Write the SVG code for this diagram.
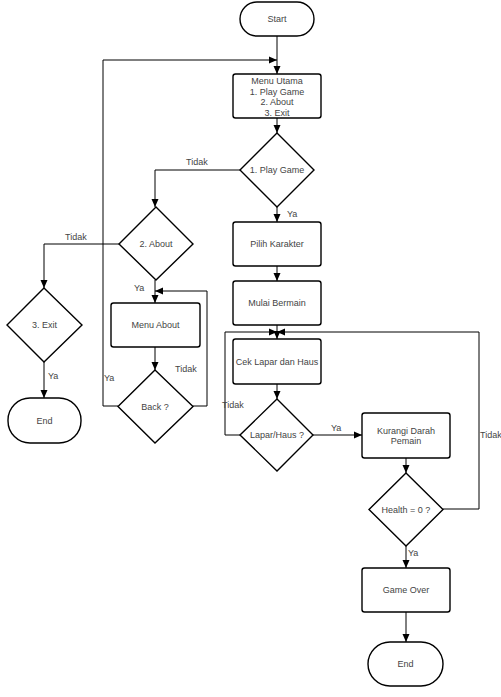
<svg xmlns="http://www.w3.org/2000/svg" width="501" height="697" viewBox="0 0 501 697">
<style>
.s{fill:#fff;stroke:#000;stroke-width:1.4}
.t{font-family:"Liberation Sans",Arial,sans-serif;font-size:9px;fill:#444;text-anchor:middle;dominant-baseline:central}
.l{font-family:"Liberation Sans",Arial,sans-serif;font-size:9px;fill:#444}
.c{fill:none;stroke:#000;stroke-width:1;marker-end:url(#a)}
</style>
<defs>
<marker id="a" viewBox="0 0 8 8" refX="8" refY="4" markerWidth="8" markerHeight="8" markerUnits="userSpaceOnUse" orient="auto">
<path d="M0,0.5 L8,4 L0,7.5 Z" fill="#000"/>
</marker>
</defs>
<rect width="501" height="697" fill="#fff"/>
<g id="connectors">
<path class="c" d="M277,36 V74"/>
<path class="c" d="M118,406 H103 V60 H277"/>
<path class="c" d="M277,118 V133"/>
<path class="c" d="M277,207 V222"/>
<path class="c" d="M277,266 V281"/>
<path class="c" d="M277,325 V339"/>
<path class="c" d="M240,435 H225 V332 H277"/>
<path class="c" d="M443,509 H479 V332 H277"/>
<path class="c" d="M277,384 V399"/>
<path class="c" d="M313,435 H362"/>
<path class="c" d="M406,458 V473"/>
<path class="c" d="M406,546 V568"/>
<path class="c" d="M406,612 V642"/>
<path class="c" d="M240,170 H155 V207"/>
<path class="c" d="M119,244 H44 V288"/>
<path class="c" d="M44,362 V398"/>
<path class="c" d="M155,280 V303"/>
<path class="c" d="M155,347 V370"/>
<path class="c" d="M193,406 H207 V291 H155"/>
<text class="l" x="287" y="217">Ya</text>
<text class="l" x="186" y="165">Tidak</text>
<text class="l" x="65" y="240">Tidak</text>
<text class="l" x="48" y="379">Ya</text>
<text class="l" x="134" y="291">Ya</text>
<text class="l" x="175" y="372">Tidak</text>
<text class="l" x="104" y="381">Ya</text>
<text class="l" x="222" y="408">Tidak</text>
<text class="l" x="331" y="431">Ya</text>
<text class="l" x="480" y="438">Tidak</text>
<text class="l" x="408" y="556">Ya</text>
</g>
<g id="start"><rect class="s" x="240" y="2" width="74" height="34" rx="17"/><text class="t" x="277" y="19">Start</text></g>
<g id="menu-utama"><rect class="s" x="233" y="74" width="88" height="44" rx="2.5"/>
<text class="t" x="277" y="81">Menu Utama</text><text class="t" x="277" y="91.5">1. Play Game</text><text class="t" x="277" y="102">2. About</text><text class="t" x="277" y="112.5">3. Exit</text></g>
<g id="play-game"><path class="s" d="M277,133 L314,170 L277,207 L240,170 Z"/><text class="t" x="277" y="170">1. Play Game</text></g>
<g id="pilih-karakter"><rect class="s" x="233" y="222" width="88" height="44" rx="2.5"/><text class="t" x="277" y="244">Pilih Karakter</text></g>
<g id="mulai-bermain"><rect class="s" x="233" y="281" width="88" height="44" rx="2.5"/><text class="t" x="277" y="303">Mulai Bermain</text></g>
<g id="cek-lapar"><rect class="s" x="233" y="339" width="88" height="45" rx="2.5"/><text class="t" x="277" y="361.5">Cek Lapar dan Haus</text></g>
<g id="lapar-haus"><path class="s" d="M277,399 L313,435 L277,471 L240,435 Z"/><text class="t" x="277" y="435">Lapar/Haus ?</text></g>
<g id="kurangi-darah"><rect class="s" x="362" y="413" width="88" height="45" rx="2.5"/><text class="t" x="406" y="430.5">Kurangi Darah</text><text class="t" x="406" y="441">Pemain</text></g>
<g id="health"><path class="s" d="M406,473 L443,509.5 L406,546 L369,509.5 Z"/><text class="t" x="406" y="509.5">Health = 0 ?</text></g>
<g id="game-over"><rect class="s" x="362" y="568" width="88" height="44" rx="2.5"/><text class="t" x="406" y="590">Game Over</text></g>
<g id="end-right"><rect class="s" x="368" y="642" width="75" height="44" rx="22"/><text class="t" x="405.5" y="664">End</text></g>
<g id="about"><path class="s" d="M156,207 L193,244 L156,280 L119,244 Z"/><text class="t" x="156" y="244">2. About</text></g>
<g id="menu-about"><rect class="s" x="111" y="303" width="89" height="44" rx="2.5"/><text class="t" x="155.5" y="325">Menu About</text></g>
<g id="back"><path class="s" d="M155,370 L193,406.5 L155,443 L118,406.5 Z"/><text class="t" x="155" y="406.5">Back ?</text></g>
<g id="exit"><path class="s" d="M44,288 L82,325 L44,362 L7,325 Z"/><text class="t" x="44.5" y="325">3. Exit</text></g>
<g id="end-left"><rect class="s" x="8" y="398" width="73" height="45" rx="22"/><text class="t" x="44.5" y="420.5">End</text></g>
</svg>
